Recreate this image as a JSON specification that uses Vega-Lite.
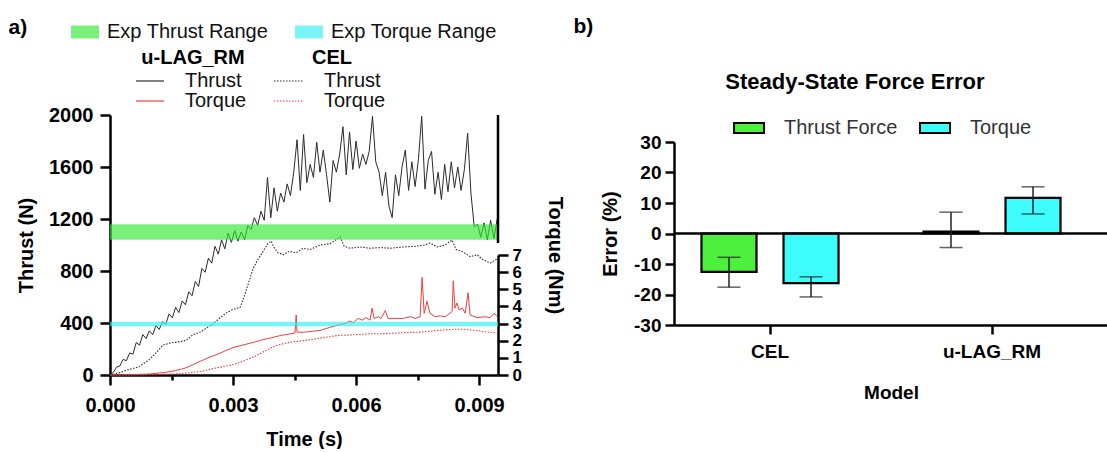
{
  "$schema": "https://vega.github.io/schema/vega-lite/v6.json",
  "padding": {"left": 8, "top": 16, "right": 0, "bottom": 0},
  "autosize": {"type": "pad"},
  "background": "white",
  "spacing": 8,
  "resolve": {"scale": {"color": "independent"}, "legend": {"color": "independent"}},
  "datasets": {
    "ulag": [
      {"time":0,"series":"Thrust","value":0},{"time":0.00008,"series":"Thrust","value":20},{"time":0.00016,"series":"Thrust","value":60},{"time":0.00024,"series":"Thrust","value":70},{"time":0.00032,"series":"Thrust","value":120},{"time":0.0004,"series":"Thrust","value":110},{"time":0.00048,"series":"Thrust","value":170},{"time":0.00056,"series":"Thrust","value":160},{"time":0.00064,"series":"Thrust","value":250},{"time":0.00072,"series":"Thrust","value":230},{"time":0.0008,"series":"Thrust","value":310},{"time":0.00088,"series":"Thrust","value":280},{"time":0.00096,"series":"Thrust","value":340},{"time":0.00104,"series":"Thrust","value":310},{"time":0.00112,"series":"Thrust","value":380},{"time":0.0012,"series":"Thrust","value":350},{"time":0.00128,"series":"Thrust","value":410},{"time":0.00136,"series":"Thrust","value":390},{"time":0.00144,"series":"Thrust","value":470},{"time":0.00152,"series":"Thrust","value":440},{"time":0.0016,"series":"Thrust","value":520},{"time":0.00168,"series":"Thrust","value":480},{"time":0.00176,"series":"Thrust","value":570},{"time":0.00184,"series":"Thrust","value":540},{"time":0.00192,"series":"Thrust","value":640},{"time":0.002,"series":"Thrust","value":610},{"time":0.00208,"series":"Thrust","value":720},{"time":0.00216,"series":"Thrust","value":680},{"time":0.00224,"series":"Thrust","value":820},{"time":0.00232,"series":"Thrust","value":790},{"time":0.0024,"series":"Thrust","value":900},{"time":0.00248,"series":"Thrust","value":860},{"time":0.00256,"series":"Thrust","value":990},{"time":0.00264,"series":"Thrust","value":930},{"time":0.00272,"series":"Thrust","value":1040},{"time":0.0028,"series":"Thrust","value":970},{"time":0.00288,"series":"Thrust","value":1090},{"time":0.00296,"series":"Thrust","value":1020},{"time":0.00304,"series":"Thrust","value":1110},{"time":0.00312,"series":"Thrust","value":1030},{"time":0.0032,"series":"Thrust","value":1100},{"time":0.00328,"series":"Thrust","value":1040},{"time":0.00336,"series":"Thrust","value":1150},{"time":0.00344,"series":"Thrust","value":1120},{"time":0.00352,"series":"Thrust","value":1210},{"time":0.0036,"series":"Thrust","value":1150},{"time":0.00368,"series":"Thrust","value":1260},{"time":0.00376,"series":"Thrust","value":1190},{"time":0.00384,"series":"Thrust","value":1520},{"time":0.00392,"series":"Thrust","value":1210},{"time":0.004,"series":"Thrust","value":1440},{"time":0.00408,"series":"Thrust","value":1260},{"time":0.00416,"series":"Thrust","value":1400},{"time":0.00424,"series":"Thrust","value":1330},{"time":0.00432,"series":"Thrust","value":1470},{"time":0.0044,"series":"Thrust","value":1380},{"time":0.00448,"series":"Thrust","value":1560},{"time":0.00456,"series":"Thrust","value":1810},{"time":0.00464,"series":"Thrust","value":1420},{"time":0.00472,"series":"Thrust","value":1850},{"time":0.0048,"series":"Thrust","value":1480},{"time":0.00488,"series":"Thrust","value":1620},{"time":0.00496,"series":"Thrust","value":1520},{"time":0.00504,"series":"Thrust","value":1790},{"time":0.00512,"series":"Thrust","value":1560},{"time":0.0052,"series":"Thrust","value":1730},{"time":0.00528,"series":"Thrust","value":1540},{"time":0.00536,"series":"Thrust","value":1330},{"time":0.00544,"series":"Thrust","value":1650},{"time":0.00552,"series":"Thrust","value":1560},{"time":0.0056,"series":"Thrust","value":1700},{"time":0.00568,"series":"Thrust","value":1910},{"time":0.00576,"series":"Thrust","value":1540},{"time":0.00584,"series":"Thrust","value":1870},{"time":0.00592,"series":"Thrust","value":1580},{"time":0.006,"series":"Thrust","value":1800},{"time":0.00608,"series":"Thrust","value":1590},{"time":0.00616,"series":"Thrust","value":1700},{"time":0.00624,"series":"Thrust","value":1620},{"time":0.00632,"series":"Thrust","value":1720},{"time":0.0064,"series":"Thrust","value":1990},{"time":0.00648,"series":"Thrust","value":1640},{"time":0.00656,"series":"Thrust","value":1560},{"time":0.00664,"series":"Thrust","value":1380},{"time":0.00672,"series":"Thrust","value":1560},{"time":0.0068,"series":"Thrust","value":1300},{"time":0.00688,"series":"Thrust","value":1210},{"time":0.00696,"series":"Thrust","value":1540},{"time":0.00704,"series":"Thrust","value":1380},{"time":0.00712,"series":"Thrust","value":1600},{"time":0.0072,"series":"Thrust","value":1730},{"time":0.00728,"series":"Thrust","value":1420},{"time":0.00736,"series":"Thrust","value":1640},{"time":0.00744,"series":"Thrust","value":1450},{"time":0.00752,"series":"Thrust","value":1660},{"time":0.0076,"series":"Thrust","value":1990},{"time":0.00768,"series":"Thrust","value":1430},{"time":0.00776,"series":"Thrust","value":1650},{"time":0.00784,"series":"Thrust","value":1720},{"time":0.00792,"series":"Thrust","value":1390},{"time":0.008,"series":"Thrust","value":1560},{"time":0.00808,"series":"Thrust","value":1350},{"time":0.00816,"series":"Thrust","value":1620},{"time":0.00824,"series":"Thrust","value":1410},{"time":0.00832,"series":"Thrust","value":1640},{"time":0.0084,"series":"Thrust","value":1440},{"time":0.00848,"series":"Thrust","value":1600},{"time":0.00856,"series":"Thrust","value":1420},{"time":0.00864,"series":"Thrust","value":1580},{"time":0.00872,"series":"Thrust","value":1860},{"time":0.0088,"series":"Thrust","value":1400},{"time":0.00888,"series":"Thrust","value":1140},{"time":0.00896,"series":"Thrust","value":1160},{"time":0.00904,"series":"Thrust","value":1060},{"time":0.00912,"series":"Thrust","value":1170},{"time":0.0092,"series":"Thrust","value":1040},{"time":0.00928,"series":"Thrust","value":1190},{"time":0.00936,"series":"Thrust","value":1050},{"time":0.00944,"series":"Thrust","value":1200},
      {"time":0,"series":"Torque","value":0},{"time":0.00049,"series":"Torque","value":0.02},{"time":0.00098,"series":"Torque","value":0.06},{"time":0.00134,"series":"Torque","value":0.15},{"time":0.00159,"series":"Torque","value":0.25},{"time":0.00183,"series":"Torque","value":0.4},{"time":0.00202,"series":"Torque","value":0.6},{"time":0.0022,"series":"Torque","value":0.8},{"time":0.00239,"series":"Torque","value":1.0},{"time":0.00261,"series":"Torque","value":1.2},{"time":0.0028,"series":"Torque","value":1.4},{"time":0.003,"series":"Torque","value":1.6},{"time":0.00324,"series":"Torque","value":1.75},{"time":0.00349,"series":"Torque","value":1.9},{"time":0.00371,"series":"Torque","value":2.05},{"time":0.0039,"series":"Torque","value":2.15},{"time":0.00415,"series":"Torque","value":2.3},{"time":0.00439,"series":"Torque","value":2.4},{"time":0.00451,"series":"Torque","value":2.45},{"time":0.00454,"series":"Torque","value":3.5},{"time":0.00456,"series":"Torque","value":2.5},{"time":0.00476,"series":"Torque","value":2.5},{"time":0.00493,"series":"Torque","value":2.55},{"time":0.00512,"series":"Torque","value":2.6},{"time":0.00532,"series":"Torque","value":2.75},{"time":0.00554,"series":"Torque","value":2.9},{"time":0.00573,"series":"Torque","value":3.0},{"time":0.00585,"series":"Torque","value":3.15},{"time":0.00593,"series":"Torque","value":3.05},{"time":0.00605,"series":"Torque","value":3.3},{"time":0.00615,"series":"Torque","value":3.2},{"time":0.00624,"series":"Torque","value":3.35},{"time":0.00634,"series":"Torque","value":3.2},{"time":0.00639,"series":"Torque","value":3.9},{"time":0.00644,"series":"Torque","value":3.3},{"time":0.00654,"series":"Torque","value":3.4},{"time":0.00661,"series":"Torque","value":3.3},{"time":0.00671,"series":"Torque","value":3.75},{"time":0.00678,"series":"Torque","value":3.3},{"time":0.00695,"series":"Torque","value":3.3},{"time":0.00715,"series":"Torque","value":3.3},{"time":0.00732,"series":"Torque","value":3.4},{"time":0.00744,"series":"Torque","value":3.3},{"time":0.00756,"series":"Torque","value":3.4},{"time":0.00761,"series":"Torque","value":5.7},{"time":0.00766,"series":"Torque","value":3.6},{"time":0.00773,"series":"Torque","value":4.3},{"time":0.0078,"series":"Torque","value":3.6},{"time":0.00793,"series":"Torque","value":3.4},{"time":0.00805,"series":"Torque","value":3.45},{"time":0.00817,"series":"Torque","value":3.4},{"time":0.00829,"series":"Torque","value":3.6},{"time":0.00834,"series":"Torque","value":3.7},{"time":0.00837,"series":"Torque","value":5.5},{"time":0.00841,"series":"Torque","value":3.9},{"time":0.00846,"series":"Torque","value":4.2},{"time":0.00851,"series":"Torque","value":3.8},{"time":0.00859,"series":"Torque","value":3.9},{"time":0.00866,"series":"Torque","value":3.6},{"time":0.00873,"series":"Torque","value":4.8},{"time":0.00878,"series":"Torque","value":3.5},{"time":0.00895,"series":"Torque","value":3.35},{"time":0.00915,"series":"Torque","value":3.4},{"time":0.00927,"series":"Torque","value":3.35},{"time":0.00937,"series":"Torque","value":3.6},{"time":0.00944,"series":"Torque","value":3.4}
    ],
    "cel": [
      {"time":0,"series":"Thrust","value":0},{"time":0.0002,"series":"Thrust","value":15},{"time":0.00044,"series":"Thrust","value":40},{"time":0.00068,"series":"Thrust","value":60},{"time":0.00093,"series":"Thrust","value":110},{"time":0.00112,"series":"Thrust","value":170},{"time":0.00129,"series":"Thrust","value":230},{"time":0.00146,"series":"Thrust","value":245},{"time":0.00166,"series":"Thrust","value":255},{"time":0.00185,"series":"Thrust","value":265},{"time":0.00202,"series":"Thrust","value":310},{"time":0.0022,"series":"Thrust","value":330},{"time":0.00237,"series":"Thrust","value":365},{"time":0.00254,"series":"Thrust","value":400},{"time":0.00268,"series":"Thrust","value":440},{"time":0.00285,"series":"Thrust","value":480},{"time":0.003,"series":"Thrust","value":505},{"time":0.00317,"series":"Thrust","value":520},{"time":0.00327,"series":"Thrust","value":600},{"time":0.00337,"series":"Thrust","value":700},{"time":0.00349,"series":"Thrust","value":820},{"time":0.00361,"series":"Thrust","value":890},{"time":0.00373,"series":"Thrust","value":950},{"time":0.00385,"series":"Thrust","value":1010},{"time":0.00393,"series":"Thrust","value":1030},{"time":0.004,"series":"Thrust","value":980},{"time":0.0041,"series":"Thrust","value":940},{"time":0.00424,"series":"Thrust","value":925},{"time":0.00432,"series":"Thrust","value":945},{"time":0.00439,"series":"Thrust","value":950},{"time":0.00454,"series":"Thrust","value":940},{"time":0.00471,"series":"Thrust","value":975},{"time":0.00488,"series":"Thrust","value":965},{"time":0.00512,"series":"Thrust","value":1000},{"time":0.00537,"series":"Thrust","value":1010},{"time":0.00551,"series":"Thrust","value":1040},{"time":0.00561,"series":"Thrust","value":1062},{"time":0.00571,"series":"Thrust","value":990},{"time":0.00585,"series":"Thrust","value":975},{"time":0.0061,"series":"Thrust","value":985},{"time":0.00634,"series":"Thrust","value":975},{"time":0.00659,"series":"Thrust","value":980},{"time":0.00683,"series":"Thrust","value":975},{"time":0.00715,"series":"Thrust","value":985},{"time":0.00744,"series":"Thrust","value":990},{"time":0.00768,"series":"Thrust","value":1000},{"time":0.0078,"series":"Thrust","value":1015},{"time":0.00798,"series":"Thrust","value":985},{"time":0.00817,"series":"Thrust","value":1000},{"time":0.00834,"series":"Thrust","value":1038},{"time":0.00844,"series":"Thrust","value":965},{"time":0.00859,"series":"Thrust","value":950},{"time":0.00878,"series":"Thrust","value":910},{"time":0.00895,"series":"Thrust","value":925},{"time":0.0091,"series":"Thrust","value":885},{"time":0.00927,"series":"Thrust","value":862},{"time":0.00937,"series":"Thrust","value":880},{"time":0.00944,"series":"Thrust","value":892},
      {"time":0,"series":"Torque","value":0},{"time":0.00073,"series":"Torque","value":0},{"time":0.00122,"series":"Torque","value":0.03},{"time":0.00171,"series":"Torque","value":0.08},{"time":0.0022,"series":"Torque","value":0.2},{"time":0.00256,"series":"Torque","value":0.4},{"time":0.003,"series":"Torque","value":0.6},{"time":0.00329,"series":"Torque","value":0.85},{"time":0.00354,"series":"Torque","value":1.1},{"time":0.00378,"series":"Torque","value":1.4},{"time":0.00402,"series":"Torque","value":1.7},{"time":0.00427,"series":"Torque","value":1.85},{"time":0.00451,"series":"Torque","value":1.95},{"time":0.00471,"series":"Torque","value":2.0},{"time":0.00512,"series":"Torque","value":2.15},{"time":0.00554,"series":"Torque","value":2.3},{"time":0.00598,"series":"Torque","value":2.35},{"time":0.00634,"series":"Torque","value":2.4},{"time":0.00683,"series":"Torque","value":2.42},{"time":0.00715,"series":"Torque","value":2.47},{"time":0.00756,"series":"Torque","value":2.5},{"time":0.00798,"series":"Torque","value":2.6},{"time":0.00829,"series":"Torque","value":2.65},{"time":0.00846,"series":"Torque","value":2.68},{"time":0.00866,"series":"Torque","value":2.65},{"time":0.00895,"series":"Torque","value":2.6},{"time":0.0092,"series":"Torque","value":2.5},{"time":0.00944,"series":"Torque","value":2.45}
    ],
    "bands": [
      {"band":"Exp Thrust Range","lo":1040,"hi":1160},
      {"band":"Exp Torque Range","lo":2.85,"hi":3.1}
    ],
    "bars": [
      {"model":"CEL","series":"Thrust Force","error":-12.6,"lo":-17.6,"hi":-7.8},
      {"model":"CEL","series":"Torque","error":-16.3,"lo":-20.8,"hi":-14.2},
      {"model":"u-LAG_RM","series":"Thrust Force","error":0.6,"lo":-4.6,"hi":7.0},
      {"model":"u-LAG_RM","series":"Torque","error":11.7,"lo":6.4,"hi":15.3}
    ]
  },
  "hconcat": [
    {
      "title": {"text": "a)", "anchor": "start", "frame": "bounds", "fontSize": 21, "dx": -8, "offset": -16},
      "width": 388,
      "height": 260,
      "layer": [
        {
          "data": {"name": "cel"},
          "layer": [
            {
              "transform": [{"filter": "datum.series == 'Thrust'"}],
              "mark": {"type": "line", "strokeWidth": 1.1, "strokeDash": [1.5, 1.5]},
              "encoding": {
                "x": {"field": "time", "type": "quantitative", "scale": {"domain": [0, 0.00946], "nice": false, "zero": false},
                  "axis": {"title": "Time (s)", "values": [0, 0.00075, 0.0015, 0.00225, 0.003, 0.00375, 0.0045, 0.00525, 0.006, 0.00675, 0.0075, 0.00825, 0.009],
                    "labelExpr": "abs(datum.value/0.003 - round(datum.value/0.003)) < 0.01 ? format(datum.value, '.3f') : ''",
                    "tickSize": {"condition": {"test": "abs(datum.value/0.003 - round(datum.value/0.003)) < 0.01", "value": 10}, "value": 5},
                    "labelPadding": 10, "titlePadding": 14, "labelFlush": false, "labelOverlap": false}},
                "y": {"field": "value", "type": "quantitative", "scale": {"domain": [0, 2000], "nice": false}, "axis": null},
                "color": {"field": "series", "type": "nominal", "scale": {"domain": ["Thrust", "Torque"], "range": ["#2b2b2b", "#e8413c"]},
                  "legend": {"title": "CEL\u00a0\u00a0\u00a0\u00a0", "orient": "none", "legendX": 169, "legendY": -67, "symbolType": "M-2.143,0H2.143", "symbolSize": 196, "symbolStrokeWidth": 1.2, "symbolDash": [1.5, 1.5], "labelOffset": 25, "titleAnchor": "middle", "titlePadding": 3, "rowPadding": 0}}
              }
            },
            {
              "transform": [{"filter": "datum.series == 'Torque'"}],
              "mark": {"type": "line", "strokeWidth": 1.1, "strokeDash": [1.5, 1.5]},
              "encoding": {
                "x": {"field": "time", "type": "quantitative"},
                "y": {"field": "value", "type": "quantitative", "scale": {"domain": [0, 7], "range": [260, 140], "nice": false}, "axis": null},
                "color": {"field": "series", "type": "nominal", "scale": {"domain": ["Thrust", "Torque"], "range": ["#2b2b2b", "#e8413c"]}}
              }
            }
          ],
          "resolve": {"scale": {"y": "independent"}}
        },
        {
          "data": {"name": "ulag"},
          "layer": [
            {
              "transform": [{"filter": "datum.series == 'Thrust'"}],
              "mark": {"type": "line", "strokeWidth": 1},
              "encoding": {
                "x": {"field": "time", "type": "quantitative"},
                "y": {"field": "value", "type": "quantitative", "scale": {"domain": [0, 2000], "nice": false},
                  "axis": {"orient": "left", "title": "Thrust (N)", "values": [0, 400, 800, 1200, 1600, 2000], "format": "d", "tickSize": 10, "labelPadding": 7, "titlePadding": 12}},
                "color": {"field": "series", "type": "nominal", "scale": {"domain": ["Thrust", "Torque"], "range": ["#2b2b2b", "#e8413c"]},
                  "legend": {"title": "u-LAG_RM", "orient": "none", "legendX": 30, "legendY": -67, "symbolType": "M-2,0H2", "symbolSize": 196, "symbolStrokeWidth": 1.2, "labelOffset": 25, "titleAnchor": "middle", "titlePadding": 3, "rowPadding": 0}}
              }
            },
            {
              "transform": [{"filter": "datum.series == 'Torque'"}],
              "mark": {"type": "line", "strokeWidth": 1},
              "encoding": {
                "x": {"field": "time", "type": "quantitative"},
                "y": {"field": "value", "type": "quantitative", "scale": {"domain": [0, 7], "range": [260, 140], "nice": false},
                  "axis": {"orient": "right", "title": "Torque (Nm)", "values": [0, 1, 2, 3, 4, 5, 6, 7], "tickSize": 10, "labelPadding": 4, "labelFontSize": 17, "labelOverlap": false, "labelFlush": false, "labelBound": false, "titleY": 140, "titlePadding": 23}},
                "color": {"field": "series", "type": "nominal", "scale": {"domain": ["Thrust", "Torque"], "range": ["#2b2b2b", "#e8413c"]}}
              }
            }
          ],
          "resolve": {"scale": {"y": "independent"}}
        },
        {
          "data": {"name": "bands"},
          "layer": [
            {
              "transform": [{"filter": "datum.band == 'Exp Thrust Range'"}],
              "mark": {"type": "rect", "opacity": 0.65},
              "encoding": {
                "y": {"field": "lo", "type": "quantitative", "scale": {"domain": [0, 2000], "nice": false}, "axis": null},
                "y2": {"field": "hi"},
                "color": {"field": "band", "type": "nominal", "scale": {"domain": ["Exp Thrust Range", "Exp Torque Range"], "range": ["#33e833", "#33f0f0"]},
                  "legend": {"title": null, "orient": "none", "legendX": -35, "legendY": -93, "direction": "horizontal", "symbolType": "M-2.154,-1H2.154V1H-2.154Z", "symbolSize": 169, "symbolStrokeWidth": 0, "symbolOpacity": 0.65, "labelOffset": 12, "labelFontSize": 20, "columnPadding": 25}}
              }
            },
            {
              "transform": [{"filter": "datum.band == 'Exp Torque Range'"}],
              "mark": {"type": "rect", "opacity": 0.65},
              "encoding": {
                "y": {"field": "lo", "type": "quantitative", "scale": {"domain": [0, 7], "range": [260, 140], "nice": false}, "axis": null},
                "y2": {"field": "hi"},
                "color": {"field": "band", "type": "nominal", "scale": {"domain": ["Exp Thrust Range", "Exp Torque Range"], "range": ["#33e833", "#33f0f0"]}}
              }
            }
          ],
          "resolve": {"scale": {"y": "independent"}}
        },
        {
          "data": {"values": [{}]},
          "mark": {"type": "rule", "strokeWidth": 2.5, "color": "black"},
          "encoding": {
            "x": {"datum": 0.00946, "type": "quantitative"},
            "y": {"datum": 1015, "type": "quantitative", "scale": {"domain": [0, 2000], "nice": false}, "axis": null},
            "y2": {"datum": 2000}
          }
        }
      ],
      "resolve": {"scale": {"y": "independent", "color": "independent"}}
    },
    {
      "title": {"text": "b)", "anchor": "start", "frame": "bounds", "fontSize": 21, "dx": -27, "offset": 34},
      "resolve": {"scale": {"color": "independent"}, "legend": {"color": "independent"}},
      "hconcat": [
        {
          "title": {"text": "Steady-State Force Error", "anchor": "middle", "frame": "bounds", "fontSize": 22, "offset": 21},
          "width": 434,
          "height": 210,
          "data": {"name": "bars"},
          "layer": [
            {
              "mark": {"type": "bar", "stroke": "black", "strokeWidth": 2.2},
              "encoding": {
                "x": {"field": "model", "type": "nominal", "sort": ["CEL", "u-LAG_RM"], "scale": {"paddingInner": 0.135, "paddingOuter": 0.045, "align": 0},
                  "axis": {"title": "Model", "labelAngle": 0, "tickSize": 9, "labelPadding": 8, "labelFontSize": 19, "titleFontSize": 19, "titlePadding": 22}},
                "xOffset": {"field": "series", "type": "nominal", "sort": ["Thrust Force", "Torque"], "scale": {"paddingInner": 0.329, "paddingOuter": 0.335}},
                "y": {"field": "error", "type": "quantitative", "scale": {"domain": [-30, 30], "range": [210, 27], "nice": false},
                  "axis": {"title": "Error (%)", "values": [-30, -20, -10, 0, 10, 20, 30], "tickCount": 7, "labelExpr": "'' + datum.value", "labelOverlap": false, "tickSize": 9, "labelPadding": 4, "labelFontSize": 19, "titlePadding": 13}},
                "color": {"field": "series", "type": "nominal", "scale": {"domain": ["Thrust Force", "Torque"], "range": ["#4ef03e", "#3ffcfc"]},
                  "legend": {"title": null, "orient": "none", "legendX": 65, "legendY": 3, "direction": "horizontal", "symbolType": "M-3,-1H3V1H-3Z", "symbolSize": 100, "symbolStrokeColor": "black", "symbolStrokeWidth": 2, "labelOffset": 25, "columnPadding": 18, "labelFontWeight": "normal", "labelColor": "#333", "labelFontSize": 20}}
              }
            },
            {
              "data": {"values": [{}]},
              "mark": {"type": "rule", "strokeWidth": 2.5, "color": "black"},
              "encoding": {"y": {"datum": 0, "type": "quantitative",
                "axis": {"title": "Error (%)", "values": [-30, -20, -10, 0, 10, 20, 30], "tickCount": 7, "labelExpr": "'' + datum.value", "labelOverlap": false, "tickSize": 9, "labelPadding": 4, "labelFontSize": 19, "titlePadding": 13}}}
            },
            {
              "mark": {"type": "rule", "strokeWidth": 1.5, "color": "#222"},
              "encoding": {
                "x": {"field": "model", "type": "nominal", "sort": ["CEL", "u-LAG_RM"]},
                "xOffset": {"field": "series", "type": "nominal", "sort": ["Thrust Force", "Torque"]},
                "y": {"field": "lo", "type": "quantitative",
                  "axis": {"title": "Error (%)", "values": [-30, -20, -10, 0, 10, 20, 30], "tickCount": 7, "labelExpr": "'' + datum.value", "labelOverlap": false, "tickSize": 9, "labelPadding": 4, "labelFontSize": 19, "titlePadding": 13}},
                "y2": {"field": "hi"}
              }
            },
            {
              "mark": {"type": "tick", "thickness": 1.5, "size": 23, "color": "#222"},
              "encoding": {
                "x": {"field": "model", "type": "nominal", "sort": ["CEL", "u-LAG_RM"]},
                "xOffset": {"field": "series", "type": "nominal", "sort": ["Thrust Force", "Torque"]},
                "y": {"field": "lo", "type": "quantitative",
                  "axis": {"title": "Error (%)", "values": [-30, -20, -10, 0, 10, 20, 30], "tickCount": 7, "labelExpr": "'' + datum.value", "labelOverlap": false, "tickSize": 9, "labelPadding": 4, "labelFontSize": 19, "titlePadding": 13}}
              }
            },
            {
              "mark": {"type": "tick", "thickness": 1.5, "size": 23, "color": "#222"},
              "encoding": {
                "x": {"field": "model", "type": "nominal", "sort": ["CEL", "u-LAG_RM"]},
                "xOffset": {"field": "series", "type": "nominal", "sort": ["Thrust Force", "Torque"]},
                "y": {"field": "hi", "type": "quantitative",
                  "axis": {"title": "Error (%)", "values": [-30, -20, -10, 0, 10, 20, 30], "tickCount": 7, "labelExpr": "'' + datum.value", "labelOverlap": false, "tickSize": 9, "labelPadding": 4, "labelFontSize": 19, "titlePadding": 13}}
              }
            }
          ]
        }
      ]
    }
  ],
  "config": {
    "font": "Liberation Sans",
    "view": {"stroke": null},
    "axis": {"domainColor": "black", "domainWidth": 2.5, "tickColor": "black", "tickWidth": 2.5, "labelColor": "black", "titleColor": "black", "labelFont": "Liberation Sans", "titleFont": "Liberation Sans", "labelFontWeight": "bold", "titleFontWeight": "bold", "labelFontSize": 20, "titleFontSize": 20, "grid": false, "labelOverlap": false},
    "legend": {"labelFont": "Liberation Sans", "titleFont": "Liberation Sans", "labelFontSize": 20, "labelColor": "#111", "labelLimit": 400, "titleFontSize": 20, "titleColor": "black", "titleFontWeight": "bold", "padding": 0},
    "title": {"font": "Liberation Sans", "fontWeight": "bold", "color": "black"}
  }
}
